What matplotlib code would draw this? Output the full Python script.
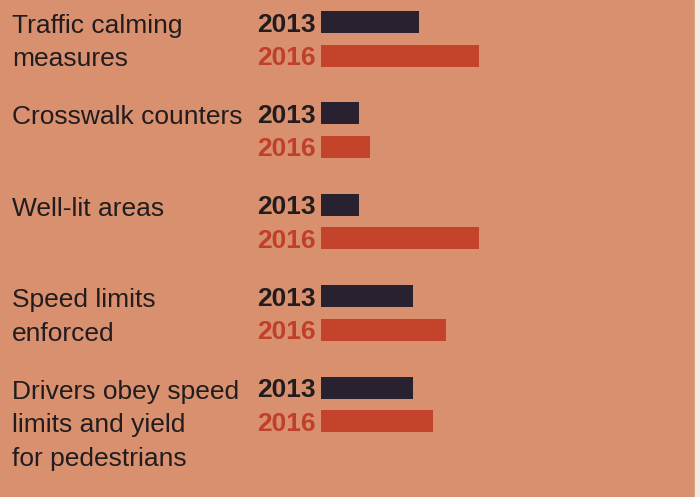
import numpy as np
import matplotlib.pyplot as plt
import matplotlib.transforms as mtransforms
from matplotlib.patches import Rectangle

# ── data ─────────────────────────────────────────────────────────────────────
categories = [
    "Traffic calming\nmeasures",
    "Crosswalk counters",
    "Well-lit areas",
    "Speed limits\nenforced",
    "Drivers obey speed\nlimits and yield\nfor pedestrians",
]
years = ["2013", "2016"]
vals_2013 = [31, 12, 12, 29, 29]
vals_2016 = [50, 15.5, 50, 39.5, 35.5]

# ── style ────────────────────────────────────────────────────────────────────
BG = '#D8906F'
DARK = '#2A2130'
RED = '#C4432B'
TXT = '#221C1E'
RED_TXT = '#C03F28'
plt.rcParams['font.family'] = ['Liberation Sans', 'DejaVu Sans']

W, H = 700, 497
fig = plt.figure(figsize=(W / 100, H / 100), dpi=100)
fig.patch.set_facecolor(BG)

# axes starts where the bars start
ax = fig.add_axes([321 / W, 0, 1 - 321 / W, 1])
ax.set_facecolor('none')
ax.axis('off')

step = 91.4          # px between groups
off = 33.5 / step    # 2016 bar below the 2013 bar
bh = 22 / step
y13 = np.arange(len(categories))
y16 = y13 + off

ax.barh(y13, vals_2013, height=bh, color=DARK)
ax.barh(y16, vals_2016, height=bh, color=RED)
ax.set_xlim(0, 120)
ax.set_ylim((H - 22) / step, -22 / step)

# year labels just left of the bars
lab_tr = mtransforms.offset_copy(ax.transData, fig=fig, x=-5, y=0, units='dots')
for i in range(len(categories)):
    ax.text(0, y13[i], years[0], transform=lab_tr, ha='right', va='center_baseline',
            fontsize=19, fontweight='bold', color=TXT)
    ax.text(0, y16[i], years[1], transform=lab_tr, ha='right', va='center_baseline',
            fontsize=19, fontweight='bold', color=RED_TXT)

# category labels at the left edge
cat_tr = mtransforms.offset_copy(
    mtransforms.blended_transform_factory(fig.transFigure, ax.transData),
    fig=fig, x=0, y=-3, units='dots')
for i, c in enumerate(categories):
    ax.text(12 / W, y13[i] - bh / 2, c, transform=cat_tr, ha='left', va='top',
            fontsize=19, color=TXT, linespacing=1.5)

# thin light edge on the right, as in the scan
fig.add_artist(Rectangle((695 / W, 0), 5 / W, 1, transform=fig.transFigure,
                         color='#F3E9E4', zorder=5))

plt.savefig('out.png', dpi=100, facecolor=BG)
